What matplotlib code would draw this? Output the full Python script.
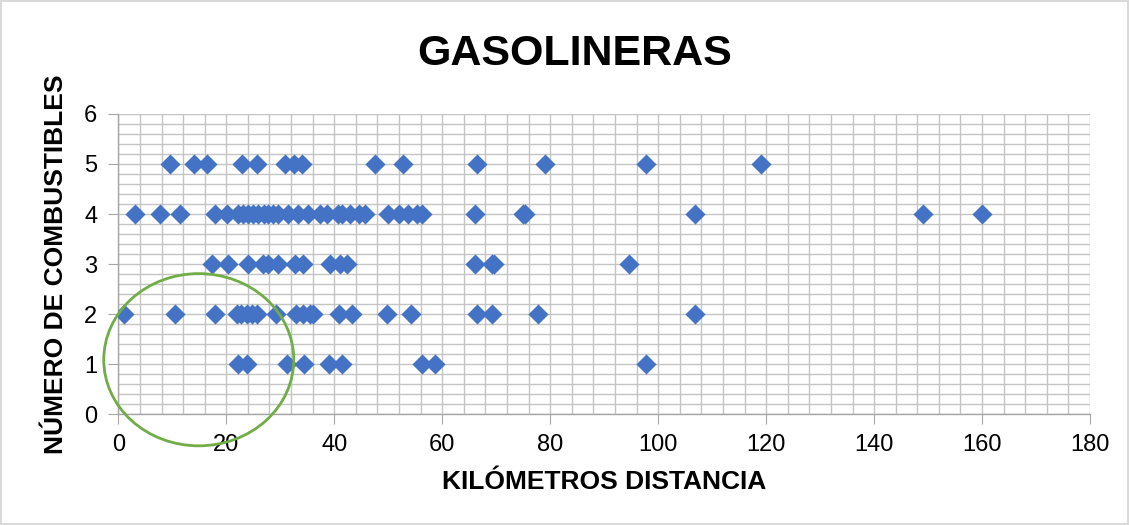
import matplotlib.pyplot as plt
import numpy as np
from matplotlib.patches import Ellipse
from matplotlib.ticker import MultipleLocator

# km distance for each number of fuels
km_1 = [22.2, 23.8, 31.2, 34.4, 39.1, 41.5, 56.2, 58.6, 97.7]
km_2 = [1.1, 10.5, 17.9, 22.0, 22.8, 23.8, 24.7, 25.6, 29.3, 33.0, 34.3, 35.5,
        36.1, 40.9, 43.2, 49.7, 54.3, 66.4, 69.3, 77.8, 106.9]
km_3 = [17.3, 20.3, 24.0, 26.8, 27.7, 29.6, 32.7, 34.2, 39.2, 41.1, 42.3,
        66.1, 69.2, 69.6, 94.6]
km_4 = [3.1, 7.8, 11.4, 17.9, 20.1, 22.2, 23.1, 24.1, 25.0, 25.9, 26.9, 27.8,
        28.7, 29.6, 31.5, 33.3, 35.2, 37.4, 38.6, 40.7, 41.4, 42.9, 44.5, 45.7,
        50.0, 51.9, 53.7, 55.3, 56.2, 66.1, 75.0, 75.4, 106.9, 149.0, 160.0]
km_5 = [9.5, 14.1, 16.4, 23.0, 25.6, 30.9, 32.5, 34.0, 47.5, 52.8, 66.5, 79.0,
        97.7, 119.0]

rows = {1: km_1, 2: km_2, 3: km_3, 4: km_4, 5: km_5}
x = []
y = []
for n, kms in rows.items():
    x += kms
    y += [n] * len(kms)

plt.rcParams['font.family'] = ['Liberation Sans', 'DejaVu Sans']

fig = plt.figure(figsize=(11.29, 5.25), dpi=100)
fig.patch.set_edgecolor('#D9D9D9')
fig.patch.set_linewidth(1.5)
ax = fig.add_axes([0.1048, 0.2109, 0.8607, 0.5721])

ax.scatter(x, y, marker='D', s=105, color='#4472C4', linewidths=0, zorder=3)

ax.set_xlim(0, 180)
ax.set_ylim(0, 6)
ax.xaxis.set_major_locator(MultipleLocator(20))
ax.xaxis.set_minor_locator(MultipleLocator(4))
ax.yaxis.set_major_locator(MultipleLocator(1))
ax.yaxis.set_minor_locator(MultipleLocator(0.2))
ax.grid(which='both', color='#C4C4C4', linewidth=1.0, zorder=0)
ax.set_axisbelow(True)

for s in ['top', 'right']:
    ax.spines[s].set_visible(False)
for s in ['left', 'bottom']:
    ax.spines[s].set_color('#A6A6A6')
    ax.spines[s].set_linewidth(1.0)

ax.tick_params(which='major', length=7, color='#A6A6A6', labelsize=17,
               labelcolor='black')
ax.tick_params(axis='x', which='major', pad=7)
ax.tick_params(axis='y', which='major', pad=8)
ax.tick_params(which='minor', length=0)

fig.suptitle('GASOLINERAS', x=0.509, y=0.935, fontsize=31, fontweight='bold')
ax.set_xlabel('KILÓMETROS DISTANCIA', fontsize=19, fontweight='bold', labelpad=10)
ax.set_ylabel('NÚMERO DE COMBUSTIBLES', fontsize=19, fontweight='bold', labelpad=12)

# green circle around the short-distance group
ax.add_patch(Ellipse((14.9, 1.09), 35.2, 3.44, fill=False, edgecolor='#70AD47',
                     linewidth=2, clip_on=False, zorder=4))

fig.savefig('out.png', dpi=100)
